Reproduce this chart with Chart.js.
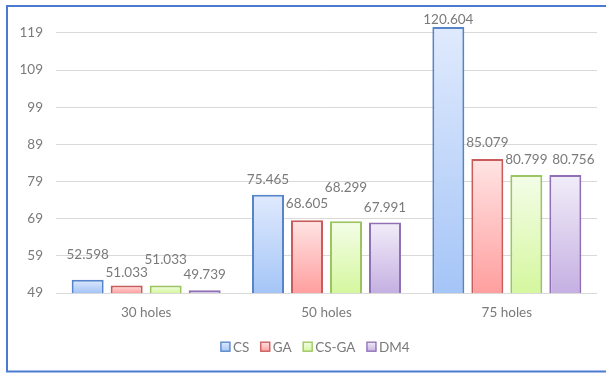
<!DOCTYPE html>
<html>
<head>
<meta charset="utf-8">
<script src="https://cdn.jsdelivr.net/npm/chart.js@4/dist/chart.umd.min.js"></script>
<style>
html,body{margin:0;padding:0;background:#fff;}
#wrap{position:absolute;left:0;top:0;width:606px;height:374px;}
</style>
</head>
<body>
<div id="wrap"><canvas id="c" width="606" height="374"></canvas></div>
<script>
const categories = ["30 holes", "50 holes", "75 holes"];
const seriesNames = ["CS", "GA", "CS-GA", "DM4"];
const csValues = [52.598, 75.465, 120.604];
const gaValues = [51.033, 68.605, 85.079];
const csgaValues = [51.033, 68.299, 80.799];
const dm4Values = [49.739, 67.991, 80.756];
const yTickValues = [49, 59, 69, 79, 89, 99, 109, 119];

const FONT = "Lato, 'Open Sans', sans-serif";
const TEXT = "#7a7a7a";

const styles = [
  {border: "#5585c8", top: "#e0eafd", bottom: "#a5c5f7"},
  {border: "#c95b5b", top: "#ffe4e4", bottom: "#ff9f9f"},
  {border: "#9cc460", top: "#f4fde8", bottom: "#d5f79f"},
  {border: "#8f70b4", top: "#f2edf9", bottom: "#c5b0e2"}
];
// label offsets (px above bar top) as placed in the reference
const labelDy = [[25, 15, 7], [13, 17, 16], [26, 34, 15], [16, 15, 15]];
const labelDx = [[0, 0, 0], [0, 0, 0], [0, 0, 0], [0, 0, 8]];

function gradFor(dsIndex) {
  return function(ctx) {
    const chart = ctx.chart;
    const st = styles[dsIndex];
    if (!chart.chartArea || !chart.scales.y || ctx.raw === undefined) return st.bottom;
    const yTop = chart.scales.y.getPixelForValue(ctx.raw);
    const yBot = chart.scales.y.getPixelForValue(chart.scales.y.min);
    if (!isFinite(yTop) || !isFinite(yBot) || yBot - yTop < 1) return st.bottom;
    const g = chart.ctx.createLinearGradient(0, yTop, 0, yBot);
    g.addColorStop(0, st.top);
    g.addColorStop(1, st.bottom);
    return g;
  };
}

const allValues = [csValues, gaValues, csgaValues, dm4Values];
const datasets = seriesNames.map((name, i) => ({
  label: name,
  data: allValues[i],
  backgroundColor: gradFor(i),
  borderColor: styles[i].border,
  borderWidth: 2,
  borderSkipped: false,
  barPercentage: 0.82,
  categoryPercentage: 0.865
}));

const framePlugin = {
  id: "frame",
  beforeDraw(chart) {
    const c = chart.ctx;
    c.save();
    c.fillStyle = "#fff";
    c.fillRect(0, 0, chart.width, chart.height);
    c.restore();
  },
  afterDraw(chart) {
    const c = chart.ctx;
    c.save();
    c.strokeStyle = "#4a7bd0";
    c.lineWidth = 2;
    c.strokeRect(7, 6, 700, 365.5);
    c.restore();
  }
};

const labelPlugin = {
  id: "valueLabels",
  afterDatasetsDraw(chart) {
    const c = chart.ctx;
    c.save();
    c.font = "13.5px " + FONT;
    c.fillStyle = TEXT;
    c.textAlign = "center";
    c.textBaseline = "middle";
    chart.data.datasets.forEach((ds, di) => {
      const meta = chart.getDatasetMeta(di);
      meta.data.forEach((bar, i) => {
        const v = ds.data[i];
        c.fillText(v.toFixed(3), bar.x + labelDx[di][i], bar.y - labelDy[di][i]);
      });
    });
    c.restore();
  }
};

const legendPlugin = {
  id: "customLegend",
  afterDraw(chart) {
    const c = chart.ctx;
    c.save();
    c.font = "13.5px " + FONT;
    const box = 10, gapText = 2.5, gapItem = 11;
    const widths = seriesNames.map(n => box + gapText + c.measureText(n).width);
    const total = widths.reduce((a, b) => a + b, 0) + gapItem * (seriesNames.length - 1);
    let x = 315 - total / 2;
    const cy = 346.7;
    seriesNames.forEach((n, i) => {
      const st = styles[i];
      const g = c.createLinearGradient(0, cy - box / 2, 0, cy + box / 2);
      g.addColorStop(0, st.top);
      g.addColorStop(1, st.bottom);
      c.fillStyle = g;
      c.fillRect(x, cy - box / 2, box, box);
      c.strokeStyle = st.border;
      c.lineWidth = 1.3;
      c.strokeRect(x + 0.5, cy - box / 2 + 0.5, box - 1, box - 1);
      c.fillStyle = TEXT;
      c.textAlign = "left";
      c.textBaseline = "middle";
      c.fillText(n, x + box + gapText, cy + 0.5);
      x += widths[i] + gapItem;
    });
    c.restore();
  }
};

new Chart(document.getElementById("c"), {
  type: "bar",
  data: { labels: categories, datasets: datasets },
  options: {
    responsive: false,
    animation: false,
    devicePixelRatio: 1,
    layout: { padding: { top: 14.9, right: 9, bottom: 53, left: 0 } },
    plugins: {
      legend: { display: false },
      tooltip: { enabled: false }
    },
    scales: {
      x: {
        grid: { display: false, drawTicks: false },
        border: { display: false },
        afterFit(scale) { scale.height = 28; },
        ticks: { font: { family: FONT, size: 13.5 }, color: TEXT, padding: 12 }
      },
      y: {
        min: 49,
        max: 122.2,
        afterBuildTicks(scale) {
          scale.ticks = yTickValues.map(v => ({ value: v }));
        },
        afterFit(scale) { scale.width = 56; },
        grid: { color: "#d9d9d9", lineWidth: 1, drawTicks: false },
        border: { display: false },
        ticks: { font: { family: FONT, size: 13.5 }, color: TEXT, padding: 13 }
      }
    }
  },
  plugins: [framePlugin, labelPlugin, legendPlugin]
});
</script>
</body>
</html>
